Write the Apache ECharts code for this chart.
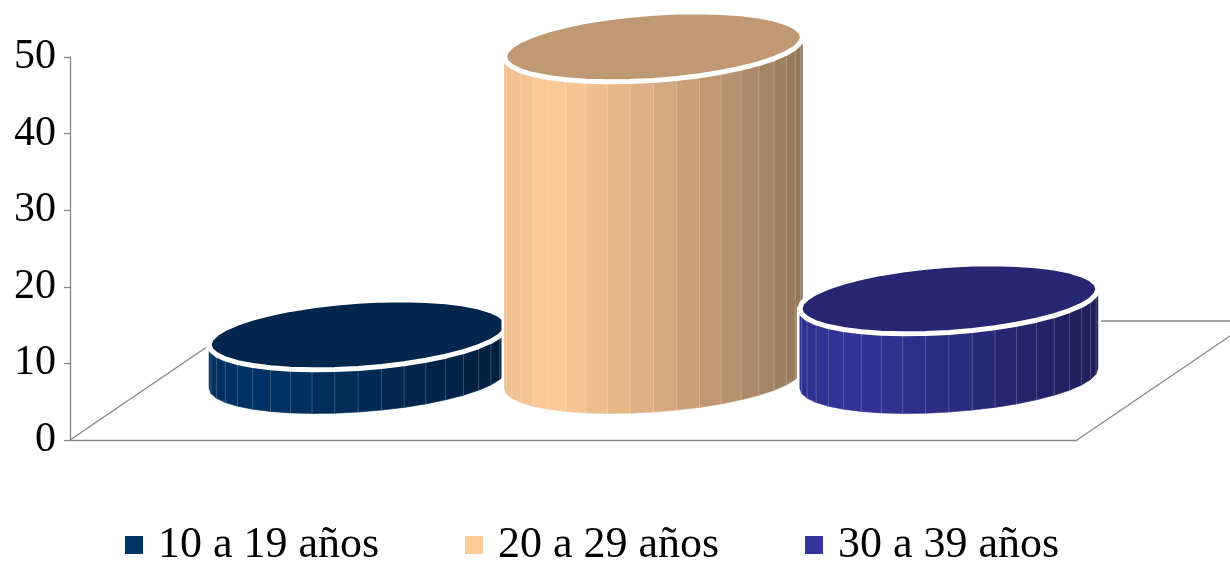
<!DOCTYPE html>
<html>
<head>
<meta charset="utf-8">
<script src="https://cdn.jsdelivr.net/npm/echarts@6/dist/echarts.min.js"></script>
<style>
  html, body { margin: 0; padding: 0; background: #fff; }
  #chart { width: 1230px; height: 565px; }
</style>
</head>
<body>
<div id="chart"></div>
<script>
// Age groups and their values
const categories = ['10 a 19 años', '20 a 29 años', '30 a 39 años'];
const values = [5.7, 43.3, 10.4];
const colors = ['#003366', '#FFCC99', '#333399'];

// Value axis ticks
const yMin = 0;
const yMax = 50;
const yStep = 10;

const FONT = '"Liberation Serif", "DejaVu Serif", serif';
const AXIS_GREY = '#868686';

// Oblique 3D projection settings
const FLOOR_DEPTH = [175, -119];    // full floor depth offset (px)
const BAR_DEPTH = [80, -61.5];      // cylinders sit halfway back
const SPREAD = 0.88;                // horizontal compression at mid-depth
const TILT = -4 * Math.PI / 180;    // rotation of the projected circles
const MINOR_R = 33.5;               // projected minor radius of the circles
const FACETS = 20;                  // facets on the visible half of the body

function hexToRgb(hex) {
  const n = parseInt(hex.slice(1), 16);
  return [(n >> 16) & 255, (n >> 8) & 255, n & 255];
}
function shade(hex, k) {
  const c = hexToRgb(hex).map(v => Math.max(0, Math.min(255, Math.round(v * k))));
  return 'rgb(' + c.join(',') + ')';
}
// Brightness across the body: light from the front-left
function lightAt(f) {
  const stops = [[0, 0.93], [0.15, 1.0], [0.5, 0.85], [1, 0.58]];
  for (let i = 0; i < stops.length - 1; i++) {
    const [f0, k0] = stops[i], [f1, k1] = stops[i + 1];
    if (f <= f1) return k0 + (k1 - k0) * (f - f0) / (f1 - f0);
  }
  return stops[stops.length - 1][1];
}

function ellipsePoint(cx, cy, a, b, t) {
  const ct = Math.cos(TILT), st = Math.sin(TILT);
  return [
    cx + a * Math.cos(t) * ct - b * Math.sin(t) * st,
    cy + a * Math.cos(t) * st + b * Math.sin(t) * ct
  ];
}

function renderCylinder(params, api) {
  const idx = api.value(0);
  const v = api.value(1);
  const color = colors[idx];
  const cs = params.coordSys;
  const base = api.coord([idx, 0]);
  const band = api.size([1, 0])[0];
  const mid = cs.x + cs.width / 2;
  const cx = mid + (base[0] - mid) * SPREAD + BAR_DEPTH[0];
  const cyB = base[1] + BAR_DEPTH[1];
  const h = api.size([0, v])[1];
  const cyT = cyB - h;
  const a = band * 0.445;
  const b = MINOR_R;

  // tangent angle where the vertical silhouette edges touch the ellipse
  const t0 = Math.atan2(-b * Math.sin(TILT), a * Math.cos(TILT));
  const topArc = [], botArc = [];
  for (let i = 0; i <= FACETS; i++) {
    const t = t0 + Math.PI * i / FACETS;
    topArc.push(ellipsePoint(cx, cyT, a, b, t));
    botArc.push(ellipsePoint(cx, cyB, a, b, t));
  }
  const topRing = [];
  const N = FACETS * 2;
  for (let i = 0; i < N; i++) {
    topRing.push(ellipsePoint(cx, cyT, a, b, t0 + 2 * Math.PI * i / N));
  }
  const xR = topArc[0][0], xL = topArc[FACETS][0];

  const children = [];
  // silhouette with white outline
  const outline = botArc.slice().concat(topArc.slice().reverse());
  children.push({
    type: 'polygon',
    shape: { points: outline },
    style: { fill: color, stroke: '#fff', lineWidth: 6, lineJoin: 'round' }
  });
  // body facets
  for (let i = 0; i < FACETS; i++) {
    const pts = [topArc[i], topArc[i + 1], botArc[i + 1], botArc[i]];
    const mx = (topArc[i][0] + topArc[i + 1][0]) / 2;
    const f = (mx - xL) / (xR - xL);
    const fill = shade(color, lightAt(f));
    children.push({
      type: 'polygon',
      shape: { points: pts },
      style: { fill: fill, stroke: fill, lineWidth: 0.6 }
    });
  }
  // faint facet seams
  for (let i = 1; i < FACETS; i++) {
    children.push({
      type: 'line',
      shape: { x1: topArc[i][0], y1: topArc[i][1], x2: botArc[i][0], y2: botArc[i][1] },
      style: { stroke: 'rgba(255,255,255,0.28)', lineWidth: 0.8 }
    });
  }
  // top face
  children.push({
    type: 'polygon',
    shape: { points: topRing },
    style: { fill: shade(color, 0.75), stroke: '#fff', lineWidth: 5, lineJoin: 'round' }
  });
  return { type: 'group', children: children };
}

function renderFloor(params, api) {
  const first = api.coord([0, 0]);
  const last = api.coord([categories.length - 1, 0]);
  const band = api.size([1, 0])[0];
  const x0 = first[0] - band / 2;
  const x1 = last[0] + band / 2;
  const y = first[1];
  const dx = FLOOR_DEPTH[0], dy = FLOOR_DEPTH[1];
  const style = { stroke: AXIS_GREY, lineWidth: 1.3 };
  return {
    type: 'group',
    children: [
      { type: 'line', shape: { x1: x0, y1: y, x2: x0 + dx, y2: y + dy }, style: style },
      { type: 'line', shape: { x1: x1, y1: y, x2: x1 + dx, y2: y + dy }, style: style },
      { type: 'line', shape: { x1: x0 + dx, y1: y + dy, x2: x1 + dx, y2: y + dy }, style: style }
    ]
  };
}

const series = [{
  type: 'custom',
  name: 'floor',
  renderItem: renderFloor,
  data: [[0, 0]],
  silent: true,
  z: 1
}];
categories.forEach((name, i) => {
  series.push({
    type: 'custom',
    name: name,
    renderItem: renderCylinder,
    itemStyle: { color: colors[i] },
    data: [[i, values[i]]],
    z: 2 + i
  });
});

const chart = echarts.init(document.getElementById('chart'), null, { renderer: 'canvas' });
chart.setOption({
  animation: false,
  backgroundColor: '#fff',
  grid: { left: 70, right: 153, top: 57, bottom: 125 },
  xAxis: {
    type: 'category',
    data: categories,
    axisLine: { show: true, lineStyle: { color: AXIS_GREY, width: 1.3 } },
    axisTick: { show: false },
    axisLabel: { show: false },
    splitLine: { show: false }
  },
  yAxis: {
    type: 'value',
    min: yMin,
    max: yMax,
    interval: yStep,
    axisLine: { show: true, lineStyle: { color: AXIS_GREY, width: 1.3 } },
    axisTick: { show: true, length: 6, lineStyle: { color: AXIS_GREY, width: 1.3 } },
    axisLabel: { color: '#000', fontFamily: FONT, fontSize: 42, margin: 14 },
    splitLine: { show: false }
  },
  legend: {
    data: categories,
    left: 125,
    top: 521,
    padding: 0,
    icon: 'rect',
    itemWidth: 18,
    itemHeight: 18,
    itemGap: 80,
    textStyle: { color: '#000', fontFamily: FONT, fontSize: 44, width: 227, padding: [0, 0, 0, 10], lineHeight: 48 }
  },
  series: series
});
</script>
</body>
</html>
